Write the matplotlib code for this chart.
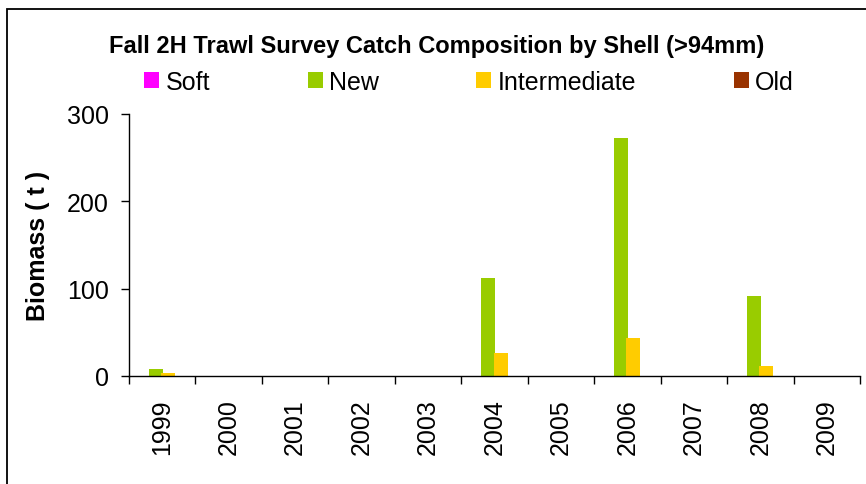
import numpy as np
import matplotlib
matplotlib.use("Agg")
import matplotlib.pyplot as plt
from matplotlib.patches import Rectangle

plt.rcParams['font.family'] = ['Liberation Sans', 'DejaVu Sans']

years = ['1999', '2000', '2001', '2002', '2003', '2004', '2005', '2006', '2007', '2008', '2009']
soft = [0, 0, 0, 0, 0, 0, 0, 0, 0, 0, 0]
new = [8, 0, 0, 0, 0, 112, 0, 272.5, 0, 92, 0]
intermediate = [4, 0, 0, 0, 0, 26, 0, 43, 0, 11, 0]
old = [0, 0, 0, 0, 0, 0, 0, 0, 0, 0, 0]

series = [("Soft", soft, "#FF00FF"),
          ("New", new, "#99CC00"),
          ("Intermediate", intermediate, "#FFCC00"),
          ("Old", old, "#993300")]

fig = plt.figure(figsize=(8.66, 4.85), dpi=100)
ax = fig.add_axes([129 / 866, 1 - 377 / 485, 731 / 866, 262 / 485])

x = np.arange(len(years))
step = 1 / 5.5
bw = 0.21
handles = []
for i, (name, vals, col) in enumerate(series):
    b = ax.bar(x + (i - 1.5) * step, vals, bw, color=col, label=name)
    handles.append(b)

ax.set_xlim(-0.5, len(years) - 0.5)
ax.set_ylim(0, 300)
ax.set_yticks([0, 100, 200, 300])
ax.tick_params(axis='y', labelsize=18, length=5.5, width=1, pad=9)

ax.set_xticks(x)
ax.set_xticklabels(years, rotation=90, fontsize=18)
ax.tick_params(axis='x', which='major', length=0, pad=16)
ax.set_xticks(np.arange(-0.5, len(years)), minor=True)
ax.tick_params(axis='x', which='minor', length=5.5, width=1)

for s in ['top', 'right']:
    ax.spines[s].set_visible(False)
for s in ['left', 'bottom']:
    ax.spines[s].set_linewidth(1)

ax.set_ylabel("Biomass ( t )", fontsize=18, fontweight='bold')
ax.yaxis.set_label_coords(-0.108, 0.5)

fig.text(437 / 866, 1 - 46 / 485, "Fall 2H Trawl Survey Catch Composition by Shell (>94mm)",
         ha='center', va='center', fontsize=17, fontweight='bold')

fig.legend(handles=handles, loc='center', bbox_to_anchor=(469 / 866, 1 - 83 / 485),
           ncol=4, frameon=False, fontsize=18, handlelength=0.6, handleheight=0.6,
           handletextpad=0.25, columnspacing=3.9, borderpad=0)

fig.patches.append(Rectangle((7 / 866, -0.1), 1.2, 1.1 - 10 / 485,
                             transform=fig.transFigure, fill=False,
                             edgecolor='black', linewidth=1.3))

fig.savefig("out.png", dpi=100)
